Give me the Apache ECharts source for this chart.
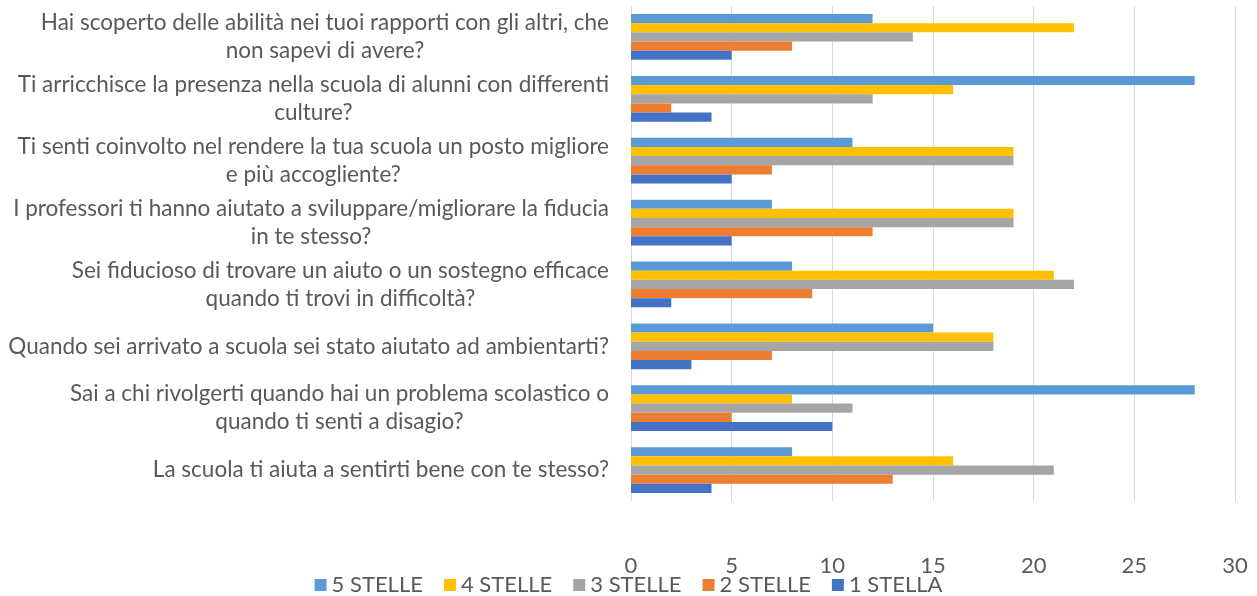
<!DOCTYPE html>
<html>
<head>
<meta charset="utf-8">
<script src="https://cdn.jsdelivr.net/npm/echarts@6/dist/echarts.min.js"></script>
<style>
  html, body { margin: 0; padding: 0; background: #fff; }
  #main { width: 1257px; height: 596px; }
</style>
</head>
<body>
<div id="main"></div>
<script>
// domande, dall'alto verso il basso
const questions = [
  'Hai scoperto delle abilità nei tuoi rapporti con gli altri, che\nnon sapevi di avere?',
  'Ti arricchisce la presenza nella scuola di alunni con differenti\nculture?',
  'Ti senti coinvolto nel rendere la tua scuola un posto migliore\ne più accogliente?',
  'I professori ti hanno aiutato a sviluppare/migliorare la fiducia\nin te stesso?',
  'Sei fiducioso di trovare un aiuto o un sostegno efficace\nquando ti trovi in difficoltà?',
  'Quando sei arrivato a scuola sei stato aiutato ad ambientarti?',
  'Sai a chi rivolgerti quando hai un problema scolastico o\nquando ti senti a disagio?',
  'La scuola ti aiuta a sentirti bene con te stesso?',
]
const seriesNames = ['5 STELLE', '4 STELLE', '3 STELLE', '2 STELLE', '1 STELLA']
const seriesColors = ['#5B9BD5', '#FFC000', '#A5A5A5', '#ED7D31', '#4472C4']
const stelle5 = [12, 28, 11, 7, 8, 15, 28, 8]
const stelle4 = [22, 16, 19, 19, 21, 18, 8, 16]
const stelle3 = [14, 12, 19, 19, 22, 18, 11, 21]
const stelle2 = [8, 2, 7, 12, 9, 7, 5, 13]
const stelle1 = [5, 4, 5, 5, 2, 3, 10, 4]
const seriesValues = [stelle5, stelle4, stelle3, stelle2, stelle1]
const xTicks = { min: 0, max: 30, interval: 5 }

const FONT = 'Lato'
const TEXT_COLOR = '#595959'

const chart = echarts.init(document.getElementById('main'))
chart.setOption({
  animation: false,
  textStyle: { fontFamily: FONT },
  grid: { left: 631, right: 22, top: 6, bottom: 95 },
  legend: {
    top: 569,
    left: 'center',
    itemWidth: 12,
    itemHeight: 12,
    itemGap: 21,
    icon: 'rect',
    data: seriesNames,
    textStyle: { fontFamily: FONT, fontSize: 22, color: TEXT_COLOR },
  },
  xAxis: {
    type: 'value',
    min: xTicks.min,
    max: xTicks.max,
    interval: xTicks.interval,
    axisLine: { show: false },
    axisTick: { show: false },
    splitLine: { lineStyle: { color: '#D9D9D9', width: 1 } },
    axisLabel: { fontFamily: FONT, fontSize: 22, color: TEXT_COLOR, margin: 54 },
  },
  yAxis: {
    type: 'category',
    inverse: true,
    data: questions,
    axisLine: { show: false },
    axisTick: { show: false },
    axisLabel: {
      margin: 22,
      align: 'right',
      // righe centrate dentro il blocco allineato a destra
      formatter: (v) => v.split('\n').map((l) => `{c|${l}}`).join('\n'),
      rich: {
        c: { align: 'center', fontFamily: FONT, fontSize: 22.5, color: TEXT_COLOR, lineHeight: 28 },
      },
    },
  },
  series: seriesNames.map((name, i) => ({
    name,
    type: 'bar',
    data: seriesValues[i],
    barGap: '0%',
    barCategoryGap: '26%',
    itemStyle: { color: seriesColors[i] },
  })),
})
</script>
</body>
</html>
